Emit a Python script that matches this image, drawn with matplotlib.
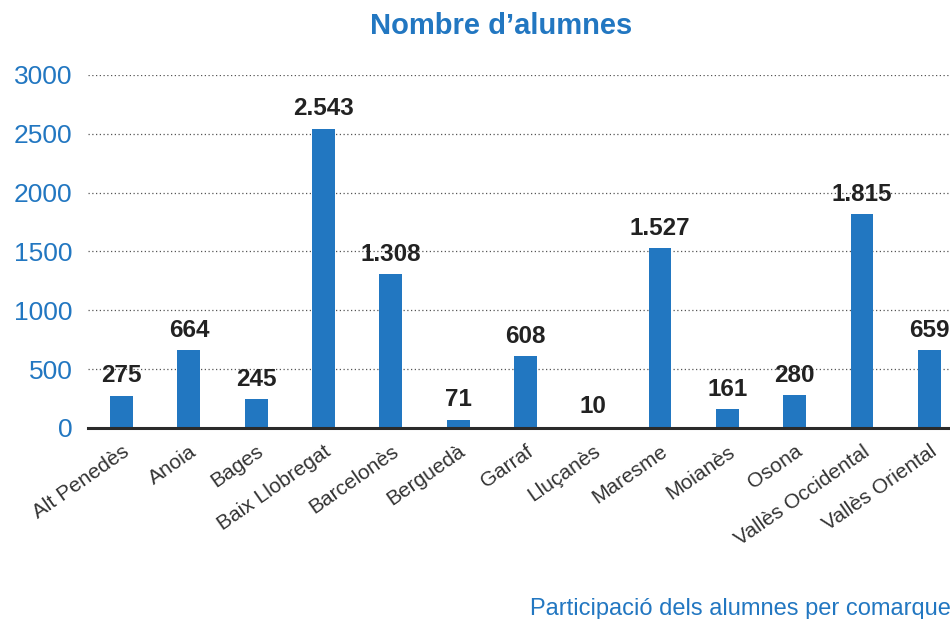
import matplotlib.pyplot as plt

# Data
comarques = ['Alt Penedès', 'Anoia', 'Bages', 'Baix Llobregat', 'Barcelonès', 'Berguedà',
             'Garraf', 'Lluçanès', 'Maresme', 'Moianès', 'Osona', 'Vallès Occidental',
             'Vallès Oriental']
alumnes = [275, 664, 245, 2543, 1308, 71, 608, 10, 1527, 161, 280, 1815, 659]
y_ticks = [0, 500, 1000, 1500, 2000, 2500, 3000]

blue = '#2277c1'
plt.rcParams['font.family'] = ['Liberation Sans', 'DejaVu Sans']

fig = plt.figure(figsize=(9.5, 6.19), dpi=100)
ax = fig.add_axes([0.0926, 0.3086, 0.921, 0.5703])

x = range(len(comarques))
ax.bar(x, alumnes, width=0.34, color=blue, zorder=3)

# value labels, Catalan thousands separator
for i, v in enumerate(alumnes):
    txt = f'{v:,}'.replace(',', '.')
    ax.annotate(txt, (i, v), xytext=(0, 6), textcoords='offset points',
                ha='center', va='bottom', fontsize=17.5, fontweight='bold', color='#222222')

ax.set_xlim(-0.5, len(comarques) - 0.5)
ax.set_ylim(0, 3000)
ax.set_yticks(y_ticks)
ax.set_yticklabels([str(t) for t in y_ticks], fontsize=19, color=blue)
ax.set_xticks(list(x))
ax.set_xticklabels(comarques, rotation=35, ha='right', rotation_mode='anchor',
                   fontsize=15, color='#333333')
ax.tick_params(axis='both', length=0)
ax.tick_params(axis='y', pad=11)
ax.tick_params(axis='x', pad=10)

ax.yaxis.grid(True, linestyle=(0, (1, 2)), color='#555555', linewidth=0.9, zorder=0)
for s in ['top', 'right', 'left']:
    ax.spines[s].set_visible(False)
ax.spines['bottom'].set_color('#2b2b2b')
ax.spines['bottom'].set_linewidth(2.2)
ax.spines['bottom'].set_zorder(4)

fig.text(0.528, 0.958, 'Nombre d\u2019alumnes', ha='center', va='center',
         fontsize=21, fontweight='bold', color=blue)
fig.text(0.558, 0.016, 'Participació dels alumnes per comarques', ha='left', va='center',
         fontsize=17, color=blue)

fig.savefig('out.png', dpi=100)
